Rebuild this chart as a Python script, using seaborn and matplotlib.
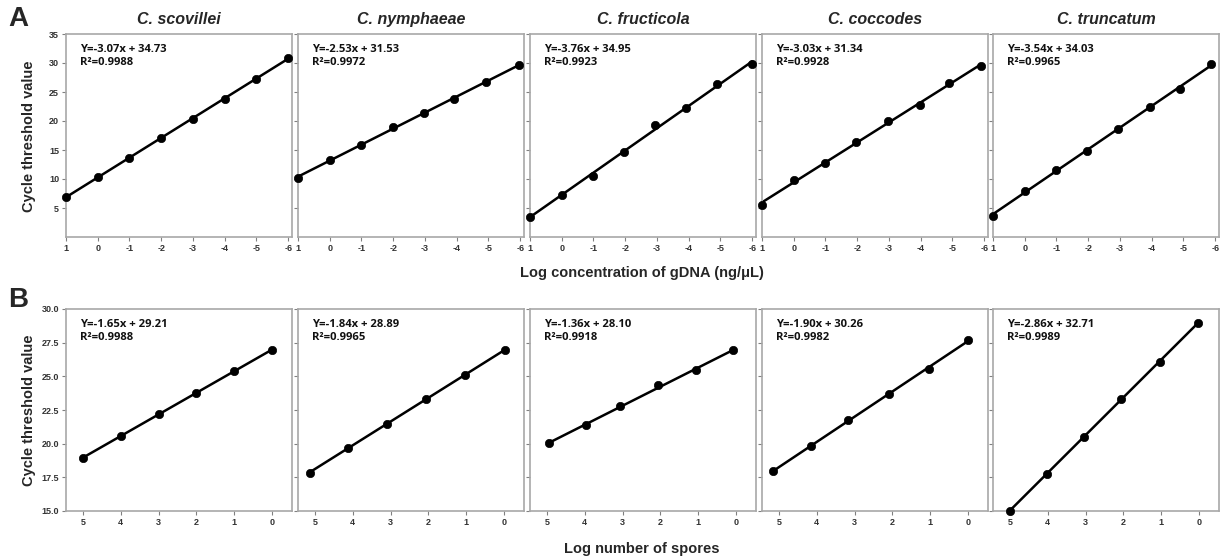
import matplotlib
matplotlib.use("Agg")
import matplotlib.pyplot as plt
import seaborn as sns
import numpy as np

sns.set_style("white")
plt.rcParams['font.family'] = ['Liberation Sans', 'DejaVu Sans']

species = ["C. scovillei", "C. nymphaeae", "C. fructicola", "C. coccodes", "C. truncatum"]

# Panel A: log gDNA concentration vs Ct
a_x = [
    [1, 0, -1, -2, -3, -4, -5, -6],
    [1, 0, -1, -1.98, -2.96, -3.93, -4.93, -5.95],
    [1, 0, -0.98, -1.96, -2.94, -3.93, -4.9, -6],
    [1, 0, -1, -1.96, -2.97, -3.97, -4.9, -5.9],
    [1, 0, -0.97, -1.97, -2.95, -3.94, -4.9, -5.87],
]
a_y = [
    [6.9, 10.3, 13.7, 17.1, 20.4, 23.8, 27.3, 30.9],
    [10.2, 13.3, 15.9, 19.0, 21.3, 23.8, 26.7, 29.7],
    [3.5, 7.2, 10.6, 14.7, 19.3, 22.2, 26.3, 29.9],
    [5.6, 9.8, 12.7, 16.3, 20.0, 22.8, 26.6, 29.5],
    [3.6, 8.0, 11.6, 14.9, 18.6, 22.4, 25.5, 29.9],
]
a_eq = ["Y=-3.07x + 34.73", "Y=-2.53x + 31.53", "Y=-3.76x + 34.95",
        "Y=-3.03x + 31.34", "Y=-3.54x + 34.03"]
a_r2 = ["0.9988", "0.9972", "0.9923", "0.9928", "0.9965"]

# Panel B: log number of spores vs Ct
b_x = [
    [5, 4, 3, 2, 1, 0],
    [5.13, 4.12, 3.1, 2.07, 1.02, -0.02],
    [4.95, 3.98, 3.06, 2.06, 1.05, 0.07],
    [5.17, 4.16, 3.17, 2.1, 1.04, 0.0],
    [5.0, 4.03, 3.05, 2.05, 1.03, 0.03],
]
b_y = [
    [18.92, 20.58, 22.22, 23.78, 25.40, 26.94],
    [17.85, 19.68, 21.49, 23.34, 25.12, 26.93],
    [20.02, 21.36, 22.80, 24.36, 25.45, 26.93],
    [17.95, 19.80, 21.73, 23.71, 25.57, 27.67],
    [15.0, 17.78, 20.53, 23.34, 26.07, 28.97],
]
b_eq = ["Y=-1.65x + 29.21", "Y=-1.84x + 28.89", "Y=-1.36x + 28.10",
        "Y=-1.90x + 30.26", "Y=-2.86x + 32.71"]
b_r2 = ["0.9988", "0.9965", "0.9918", "0.9982", "0.9989"]

a_xticks = [1, 0, -1, -2, -3, -4, -5, -6]
a_yticks = [5, 10, 15, 20, 25, 30, 35]
b_xticks = [5, 4, 3, 2, 1, 0]
b_yticks = [15.0, 17.5, 20.0, 22.5, 25.0, 27.5, 30.0]

fig = plt.figure(figsize=(12.25, 5.6), dpi=100)

lefts = [66, 298, 530, 762, 993]
W, H = 1225, 560
aw = 226


def style_ax(ax, first):
    for s in ax.spines.values():
        s.set_color("#a8a8a8")
        s.set_linewidth(1.2)
    ax.tick_params(axis="both", direction="out", length=3, width=0.8,
                   color="#808080", labelsize=6.5, pad=2, left=True, bottom=True)
    for lab in ax.get_xticklabels() + ax.get_yticklabels():
        lab.set_fontweight("bold")
        lab.set_color("#333333")
    if not first:
        ax.set_yticklabels([])
    ax.set_xlabel("")
    ax.set_ylabel("")


def draw(ax, xs, ys, eq, r2):
    sns.regplot(x=np.array(xs), y=np.array(ys), ax=ax, ci=None, color="black",
                scatter_kws=dict(s=36, zorder=3, alpha=1, edgecolor="black",
                                 linewidths=0.5, clip_on=False),
                line_kws=dict(lw=1.8, clip_on=False))
    ax.text(0.06, 0.95, eq + "\n" + "R\u00b2=" + r2, transform=ax.transAxes,
            va="top", ha="left", fontsize=8.1, fontweight="bold",
            family=["Open Sans", "DejaVu Sans"], linespacing=1.25, color="#111111")


for i in range(5):
    # panel A
    ax = fig.add_axes([lefts[i] / W, 1 - 237 / H, aw / W, (237 - 34) / H])
    draw(ax, a_x[i], a_y[i], a_eq[i], a_r2[i])
    ax.set_xlim(1.0, -6.12)
    ax.set_ylim(0, 35)
    ax.set_xticks(a_xticks)
    ax.set_yticks(a_yticks)
    ax.set_xticklabels([str(t) for t in a_xticks])
    ax.set_yticklabels([str(t) for t in a_yticks])
    style_ax(ax, i == 0)
    ax.set_title(species[i], fontsize=11.5, fontweight="bold", style="italic", pad=7)

    # panel B
    ax = fig.add_axes([lefts[i] / W, 1 - 511 / H, aw / W, (511 - 309) / H])
    draw(ax, b_x[i], b_y[i], b_eq[i], b_r2[i])
    ax.set_xlim(5.45, -0.53)
    ax.set_ylim(15, 30)
    ax.set_xticks(b_xticks)
    ax.set_yticks(b_yticks)
    ax.set_xticklabels([str(t) for t in b_xticks])
    ax.set_yticklabels(["%.1f" % t for t in b_yticks])
    style_ax(ax, i == 0)

fig.text(8 / W, 1 - 19 / H, "A", fontsize=20, fontweight="bold", va="center", ha="left")
fig.text(8 / W, 1 - 300 / H, "B", fontsize=20, fontweight="bold", va="center", ha="left")

fig.text(29 / W, 1 - 136 / H, "Cycle threshold value", rotation=90, fontsize=10.5,
         fontweight="bold", va="center", ha="center")
fig.text(29 / W, 1 - 410 / H, "Cycle threshold value", rotation=90, fontsize=10.5,
         fontweight="bold", va="center", ha="center")
fig.text(642 / W, 1 - 273 / H, "Log concentration of gDNA (ng/\u03bcL)", fontsize=10.5,
         fontweight="bold", va="center", ha="center")
fig.text(642 / W, 1 - 549 / H, "Log number of spores", fontsize=10.5,
         fontweight="bold", va="center", ha="center")

fig.savefig("out.png", dpi=100)
